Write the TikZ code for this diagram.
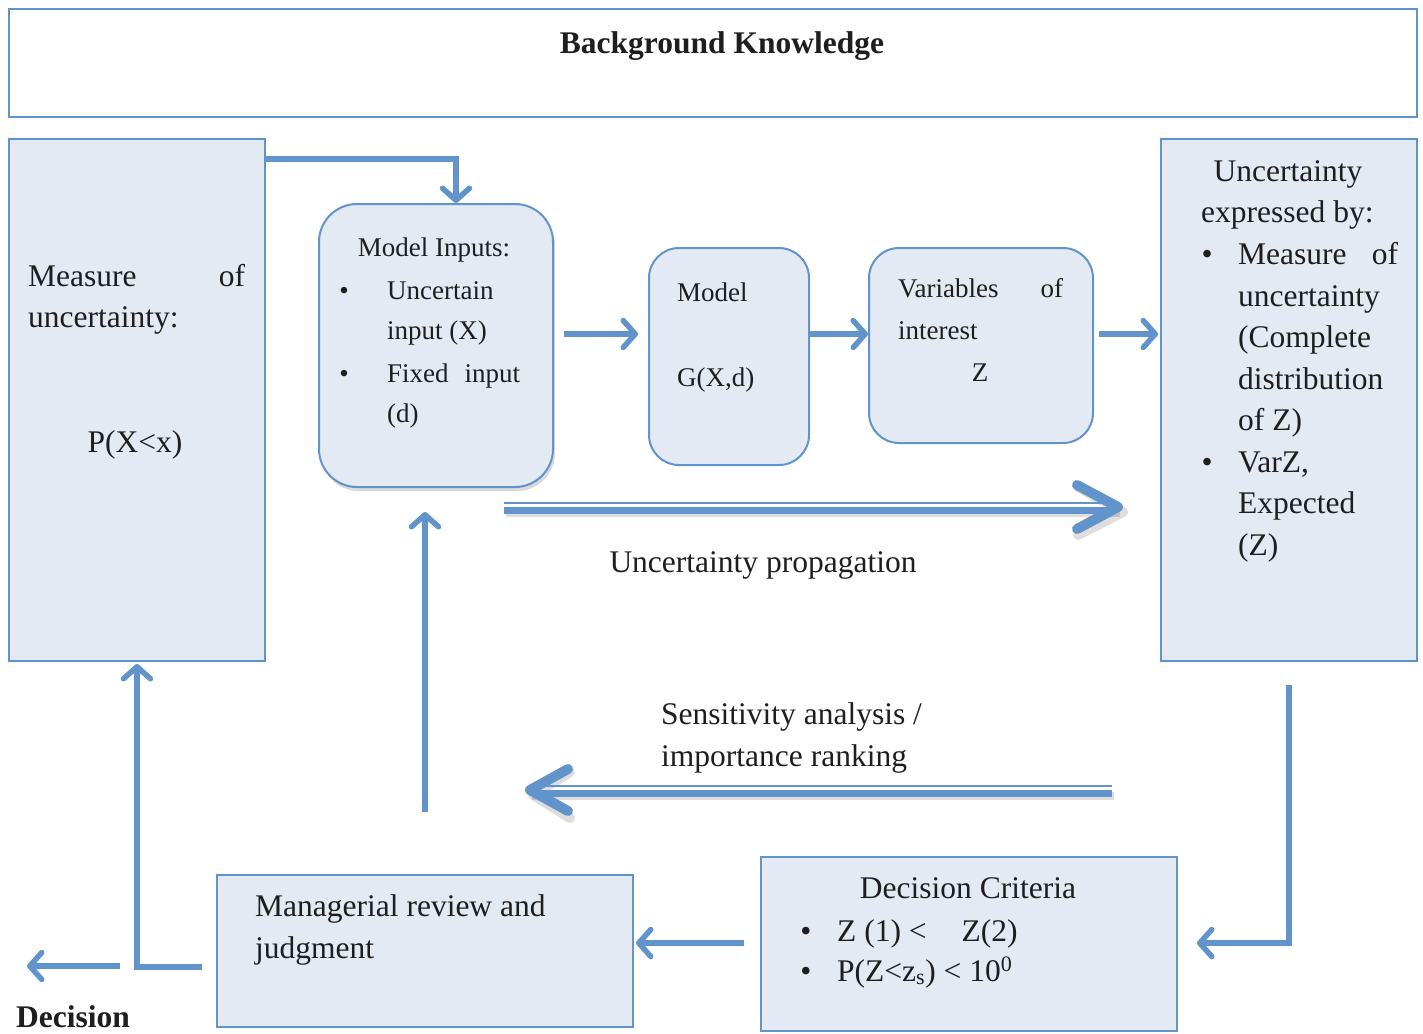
\documentclass[tikz,border=0pt]{standalone}
\usepackage{fontspec}
\setmainfont{Liberation Serif}
\usetikzlibrary{arrows.meta,shadows,calc}
\definecolor{edge}{RGB}{96,148,202}
\definecolor{boxfill}{RGB}{227,234,244}
\definecolor{ink}{RGB}{30,30,30}

\begin{document}
\begin{tikzpicture}[x=1pt,y=-1pt,
  box/.style={draw=edge, fill=boxfill, line width=2pt, anchor=north west, inner sep=0pt},
  rbox/.style={box, rounded corners=#1},
  flow/.style={draw=edge, line width=5.5pt, -{Straight Barb[length=12pt,width=27pt,round]}},
  big/.style={font=\fontsize{31.5}{41.6}\selectfont, text=ink, inner sep=0pt, anchor=base west},
  small/.style={font=\fontsize{27}{42}\selectfont, text=ink, inner sep=0pt, anchor=base west},
  chev/.style={draw=edge, line width=10pt, line cap=round, line join=round},
  arrshadow/.style={draw=black, opacity=0.13}
]
\useasboundingbox (0,0) rectangle (1423,1033);

% ---------- boxes ----------
\node[box, fill=white, minimum width=1408pt, minimum height=108pt] (bg) at (8,8) {};
\node[box, minimum width=256pt, minimum height=522pt] (left) at (8,138) {};
\node[rbox=38pt, minimum width=234pt, minimum height=283pt,
      drop shadow={opacity=0.3, shadow xshift=2pt, shadow yshift=-4pt}] (inputs) at (318,203) {};
\node[rbox=30pt, minimum width=160pt, minimum height=217pt] (model) at (648,247) {};
\node[rbox=30pt, minimum width=224pt, minimum height=195pt] (vars) at (868,247) {};
\node[box, minimum width=256pt, minimum height=522pt] (right) at (1160,138) {};
\node[box, minimum width=416pt, minimum height=174pt] (criteria) at (760,856) {};
\node[box, minimum width=416pt, minimum height=152pt] (review) at (216,874) {};

% ---------- texts ----------
\node[big, anchor=base, font=\fontsize{31.5}{41.6}\selectfont\bfseries] (bgt) at (722,53) {Background Knowledge};

\node[big] (l1) at (28,286) {\makebox[217pt][s]{Measure of}};
\node[big] (l2) at (28,327) {uncertainty:};
\node[big, anchor=base] (l3) at (135,452) {P(X<x)};

\node[small, anchor=base] (i0) at (434,256) {Model Inputs:};
\node[small, anchor=base] (ib1) at (344,299) {\textbullet};
\node[small] (i1) at (387,299) {Uncertain};
\node[small] (i2) at (387,339) {input (X)};
\node[small, anchor=base] (ib2) at (344,382) {\textbullet};
\node[small] (i3) at (387,382) {\makebox[133pt][s]{Fixed input}};
\node[small] (i4) at (387,422) {(d)};

\node[small] (m1) at (677,301) {Model};
\node[small] (m2) at (677,386) {G(X,d)};

\node[small] (v1) at (898,297) {\makebox[165pt][s]{Variables of}};
\node[small] (v2) at (898,339) {interest};
\node[small, anchor=base] (v3) at (980,381) {Z};

\node[big, anchor=base] (r0) at (1288,181) {Uncertainty};
\node[big] (r1) at (1201,222) {expressed by:};
\node[big, anchor=base] (rb1) at (1207,264) {\textbullet};
\node[big] (r2) at (1238,264) {\makebox[160pt][s]{Measure of}};
\node[big] (r3) at (1238,306) {uncertainty};
\node[big] (r4) at (1238,347) {(Complete};
\node[big] (r5) at (1238,389) {distribution};
\node[big] (r6) at (1238,430) {of Z)};
\node[big, anchor=base] (rb2) at (1207,472) {\textbullet};
\node[big] (r7) at (1238,472) {VarZ,};
\node[big] (r8) at (1238,513) {Expected};
\node[big] (r9) at (1238,555) {(Z)};

\node[big, anchor=base] (prop) at (763,572) {Uncertainty propagation};
\node[big] (sens1) at (661,724) {Sensitivity analysis /};
\node[big] (sens2) at (661,766) {importance ranking};

\node[big, anchor=base] (c0) at (968,898) {Decision Criteria};
\node[big, anchor=base] (cb1) at (806,941) {\textbullet};
\node[big] (c1) at (837,941) {Z (1) <\hspace{35pt}Z(2)};
\node[big, anchor=base] (cb2) at (806,981) {\textbullet};
\node[big] (c2) at (837,981) {P(Z<z\textsubscript{s}) < 10\textsuperscript{0}};

\node[big] (g1) at (255,916) {Managerial review and};
\node[big] (g2) at (255,958) {judgment};

\node[big, font=\fontsize{31.5}{41.6}\selectfont\bfseries] (dec) at (16,1027) {Decision};

% ---------- connectors ----------
\coordinate (row) at (0,334);
\draw[flow] ($(left.north east)+(0,21)$) -| ($(inputs.north)+(20,0)$);
\draw[flow] ($(inputs.east |- row)+(10,0)$) -- ($(model.west |- row)+(-10,0)$);
\draw[flow] (model.east |- row) -- (vars.west |- row);
\draw[flow] ($(vars.east |- row)+(5,0)$) -- ($(right.west |- row)+(-2,0)$);

\draw[flow] ($(inputs.south)+(-11,324)$) -- ($(inputs.south)+(-11,24)$);

\draw[flow] ($(right.south)+(0,23)$) |- ($(criteria.east)+(19,-1)$);
\draw[flow] ($(criteria.west)+(-16,-1)$) -- ($(review.east)+(2,-8)$);
\draw[flow] ($(review.west)+(-14,16)$) -| ($(left.south)+(0,2)$);

\coordinate (decA) at (120,966);
\coordinate (decB) at (27,966);
\draw[flow] (decA) -- (decB);

% ---------- double arrows ----------
\coordinate (pA) at (504,507);
\coordinate (pB) at (1118,507);
\draw[arrshadow, line width=8pt] ($(pA)+(2,6)$) -- ($(pB)+(2,6)$);
\draw[arrshadow, line width=10pt, line cap=round, line join=round]
  ($(pB)+(-40,-20)$) -- ($(pB)+(5,5)$) -- ($(pB)+(-40,28)$);
\draw[edge, line width=2.5pt] ($(pA)+(0,-4)$) -- ($(pB)+(-6,-4)$);
\draw[edge, line width=7pt] ($(pA)+(0,3)$) -- ($(pB)+(-6,3)$);
\draw[chev] ($(pB)+(-41,-22)$) -- (pB) -- ($(pB)+(-41,22)$);

\coordinate (sA) at (1112,790);
\coordinate (sB) at (530,790);
\draw[arrshadow, line width=8pt] ($(sA)+(2,6)$) -- ($(sB)+(2,6)$);
\draw[arrshadow, line width=10pt, line cap=round, line join=round]
  ($(sB)+(40,-18)$) -- ($(sB)+(3,5)$) -- ($(sB)+(40,28)$);
\draw[edge, line width=2.5pt] ($(sA)+(0,-4)$) -- ($(sB)+(6,-4)$);
\draw[edge, line width=7pt] ($(sA)+(0,3)$) -- ($(sB)+(6,3)$);
\draw[chev] ($(sB)+(38,-21)$) -- (sB) -- ($(sB)+(38,21)$);
\end{tikzpicture}
\end{document}
